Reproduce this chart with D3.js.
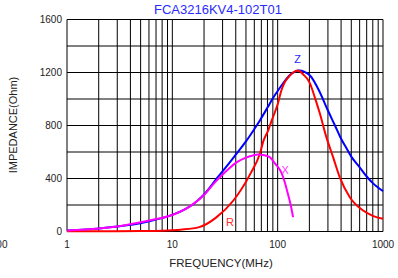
<!DOCTYPE html>
<html><head><meta charset="utf-8">
<script src="https://cdn.jsdelivr.net/npm/d3@7"></script>
<style>body{margin:0;background:#fff}svg{display:block;font-family:"Liberation Sans",Arial,sans-serif}</style>
</head><body><svg id="c" width="398" height="278"></svg>
<script>
const title = "FCA3216KV4-102T01";
const xTicks = [1, 10, 100, 1000];
const yTicks = [0, 400, 800, 1200, 1600];
const zFreq = [1, 1.5, 2, 3, 5, 7, 10, 13, 16, 20, 27, 33, 40, 50, 58, 68, 80, 90, 105, 113, 120, 130, 145, 160, 180, 203, 250, 300, 350, 400, 450, 500, 600, 700, 800, 1000];
const zVal  = [8, 15, 22, 38, 62, 90, 125, 165, 210, 280, 410, 495, 580, 680, 755, 840, 935, 1005, 1085, 1120, 1148, 1180, 1205, 1215, 1205, 1177, 1055, 913, 800, 700, 628, 565, 485, 415, 365, 305];
const rFreq = [1, 3, 5, 8, 12, 18, 26, 38, 55, 68, 73, 81, 88, 100, 109, 117, 125, 140, 156, 175, 200, 230, 252, 290, 336, 388, 484, 648, 800, 1000];
const rVal  = [2, 2, 3, 6, 14, 33, 105, 234, 435, 590, 680, 760, 840, 960, 1070, 1128, 1160, 1200, 1215, 1185, 1127, 990, 888, 712, 561, 410, 259, 158, 118, 96];
const xFreq = [1, 2, 3, 6, 10, 13, 16, 20, 25, 30, 35, 41, 50, 58, 65, 75, 84, 95, 108, 117, 125, 133, 140];
const xVal  = [8, 22, 38, 83, 125, 165, 210, 275, 365, 430, 480, 523, 558, 574, 581, 575, 561, 510, 448, 370, 284, 200, 108];

const svg = d3.select("#c");
const x = d3.scaleLog().domain([1, 1000]).range([67, 383]);
const y = d3.scaleLinear().domain([0, 1600]).range([231.5, 19.5]);

// grid
const vgrid = [];
for (let d = 1; d < 1000; d *= 10) for (let k = 1; k <= 10; k++) vgrid.push(d * k);
svg.append("g").selectAll("line").data(Array.from(new Set(vgrid))).join("line")
  .attr("x1", d => x(d)).attr("x2", d => x(d)).attr("y1", y(0)).attr("y2", y(1600))
  .attr("stroke", "#000").attr("stroke-width", 1);
svg.append("g").selectAll("line").data(d3.range(0, 1601, 200)).join("line")
  .attr("x1", x(1)).attr("x2", x(1000)).attr("y1", d => y(d)).attr("y2", d => y(d))
  .attr("stroke", "#000").attr("stroke-width", 1);

// tick labels
svg.append("g").selectAll("text").data(yTicks).join("text")
  .attr("x", 62).attr("y", d => y(d) + 3.5).attr("text-anchor", "end")
  .attr("font-size", 10).attr("fill", "#222").text(d => d);
svg.append("g").selectAll("text").data(xTicks).join("text")
  .attr("x", d => x(d)).attr("y", 248).attr("text-anchor", "middle")
  .attr("font-size", 10).attr("fill", "#222").text(d => d);
svg.append("text").attr("x", 7.5).attr("y", 248).attr("text-anchor", "end")
  .attr("font-size", 10).attr("fill", "#222").text("100");

// titles
svg.append("text").attr("x", 218).attr("y", 13.5).attr("text-anchor", "middle")
  .attr("font-size", 13).attr("fill", "#2a2aff").text(title);
svg.append("text").attr("x", 221).attr("y", 267).attr("text-anchor", "middle")
  .attr("font-size", 11.5).attr("fill", "#222").text("FREQUENCY(MHz)");
svg.append("text").attr("transform", "translate(17,125) rotate(-90)").attr("text-anchor", "middle")
  .attr("font-size", 11).attr("fill", "#222").text("IMPEDANCE(Ohm)");

// curves
const line = d3.line().x(d => x(d[0])).y(d => y(d[1])).curve(d3.curveMonotoneX);
function draw(fs, vs, col) {
  svg.append("path").datum(fs.map((f, i) => [f, vs[i]])).attr("d", line)
    .attr("fill", "none").attr("stroke", col).attr("stroke-width", 2).attr("stroke-linejoin", "round");
}
draw(zFreq, zVal, "#0000ff");
draw(rFreq, rVal, "#ff0000");
draw(xFreq, xVal, "#ff00ff");

// labels
svg.append("text").attr("x", x(160) - 5).attr("y", 63).attr("font-size", 11).attr("fill", "#2a2aff").text("Z");
svg.append("text").attr("x", 226).attr("y", 226).attr("font-size", 11).attr("fill", "#ff2a2a").text("R");
svg.append("text").attr("x", 281.5).attr("y", 174).attr("font-size", 11).attr("fill", "#ff33ff").text("X");
</script></body></html>
